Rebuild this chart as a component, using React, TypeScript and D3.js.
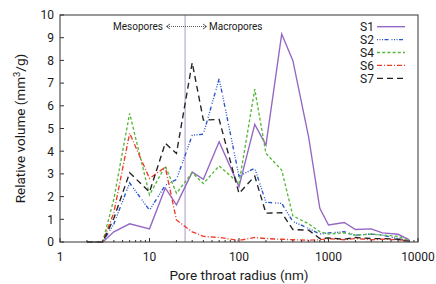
import React from "react";
import * as d3 from "d3";

const radius = [2, 3, 4, 6, 10, 15, 20, 30, 40, 60, 100, 150, 200, 300, 400, 600, 800, 1000, 1500, 2000, 3000, 4000, 6000, 8000];
const S1 = [0, 0, 0.45, 0.8, 0.58, 2.38, 1.64, 3.08, 2.76, 4.42, 2.44, 5.18, 4.27, 9.16, 7.99, 4.62, 1.48, 0.75, 0.86, 0.55, 0.58, 0.4, 0.34, 0.09];
const S2 = [0, 0, 0.8, 2.6, 1.4, 2.5, 2.75, 4.7, 4.75, 7.2, 2.9, 3.25, 1.75, 1.7, 0.9, 0.6, 0.35, 0.4, 0.45, 0.3, 0.35, 0.3, 0.15, 0.05];
const S4 = [0, 0, 1.9, 5.67, 2.07, 3.35, 2.15, 3.05, 2.58, 3.35, 2.58, 6.73, 3.9, 3.17, 1.15, 0.8, 0.45, 0.35, 0.4, 0.3, 0.35, 0.3, 0.25, 0.05];
const S6 = [0, 0, 1.3, 4.79, 2.8, 3.3, 0.97, 0.45, 0.25, 0.2, 0.07, 0.2, 0.15, 0.12, 0.1, 0.08, 0.1, 0.15, 0.1, 0.15, 0.1, 0.12, 0.1, 0.05];
const S7 = [0, 0, 1.05, 3.05, 2.2, 4.35, 3.9, 7.9, 5.37, 5.4, 2.14, 2.9, 1.27, 1.29, 0.55, 0.52, 0.15, 0.18, 0.12, 0.2, 0.15, 0.15, 0.12, 0.02];

const seriesNames = ["S1", "S2", "S4", "S6", "S7"];
const seriesValues = [S1, S2, S4, S6, S7];
const seriesColors = ["#9467c4", "#2a55c8", "#55b83a", "#ee3b2a", "#222222"];
const seriesDash = ["", "1,1.5,1,1.5,1,1.5,4,3", "3,2.2", "5,2,1,2", "6,4"];

const xTicks = [1, 10, 100, 1000, 10000];
const yTicks = [0, 1, 2, 3, 4, 5, 6, 7, 8, 9, 10];
const boundary = 25;

const L = 60, R = 418, T = 15, B = 242;

export default function App() {
  const x = d3.scaleLog().domain([1, 10000]).range([L, R]);
  const y = d3.scaleLinear().domain([0, 10]).range([B, T]);
  const minor: number[] = [];
  for (let d = 1; d < 10000; d *= 10) for (let k = 2; k <= 9; k++) minor.push(d * k);
  const line = d3
    .line<[number, number]>()
    .x((d) => x(d[0]))
    .y((d) => y(d[1]));
  const font = "Roboto, 'Noto Sans', sans-serif";
  const ay = 26.5;
  return (
    <svg width={436} height={284} style={{ position: "fixed", left: 0, top: 0, background: "#fff" }} fontFamily={font}>
      <rect x={0} y={0} width={436} height={284} fill="#fff" />
      <line x1={x(boundary)} x2={x(boundary)} y1={T} y2={B} stroke="#c9b9df" strokeWidth={1.5} />
      {seriesValues.map((vals, i) => (
        <path
          key={seriesNames[i]}
          d={line(radius.map((r, j) => [r, vals[j]]) as [number, number][]) || ""}
          fill="none"
          stroke={seriesColors[i]}
          strokeWidth={1.35}
          strokeDasharray={seriesDash[i] || undefined}
        />
      ))}
      <rect x={L} y={T} width={R - L} height={B - T} fill="none" stroke="#555" strokeWidth={1.2} />
      {yTicks.map((t) => (
        <g key={"y" + t}>
          <line x1={L} x2={L + 4} y1={y(t)} y2={y(t)} stroke="#333" />
          <text x={L - 6} y={y(t)} dy="0.36em" textAnchor="end" fontSize={12} fill="#1a1a1a">
            {t}
          </text>
        </g>
      ))}
      {minor.map((t) => (
        <line key={"m" + t} x1={x(t)} x2={x(t)} y1={B} y2={B - 2} stroke="#333" />
      ))}
      {xTicks.map((t) => (
        <g key={"x" + t}>
          <line x1={x(t)} x2={x(t)} y1={B} y2={B - 4} stroke="#333" />
          <text x={x(t)} y={261} textAnchor="middle" fontSize={12} fill="#1a1a1a">
            {t}
          </text>
        </g>
      ))}
      <text x={(L + R) / 2} y={280} textAnchor="middle" fontSize={13.5} fill="#1a1a1a">
        Pore throat radius (nm)
      </text>
      <text transform={`translate(25,${(T + B) / 2}) rotate(-90)`} textAnchor="middle" fontSize={13.5} fill="#1a1a1a">
        Relative volume (mm
        <tspan fontSize={9.5} dy={-5}>3</tspan>
        <tspan dy={5}>/g)</tspan>
      </text>
      <text x={163} y={30} textAnchor="end" fontSize={10} fill="#1a1a1a">Mesopores</text>
      <text x={209} y={30} fontSize={10} fill="#1a1a1a">Macropores</text>
      <line x1={167} x2={206} y1={ay} y2={ay} stroke="#333" strokeWidth={0.8} strokeDasharray="1,1" />
      <path d={`M170,${ay - 2.5} L166.5,${ay} L170,${ay + 2.5}`} fill="none" stroke="#333" strokeWidth={0.8} />
      <path d={`M203,${ay - 2.5} L206.5,${ay} L203,${ay + 2.5}`} fill="none" stroke="#333" strokeWidth={0.8} />
      {seriesNames.map((n, i) => {
        const ly = 26.7 + i * 12.9;
        return (
          <g key={"l" + n}>
            <text x={360} y={ly} dy="0.36em" fontSize={12} fill="#1a1a1a">{n}</text>
            <line x1={377} x2={405} y1={ly} y2={ly} stroke={seriesColors[i]} strokeWidth={1.35} strokeDasharray={seriesDash[i] || undefined} />
          </g>
        );
      })}
    </svg>
  );
}
